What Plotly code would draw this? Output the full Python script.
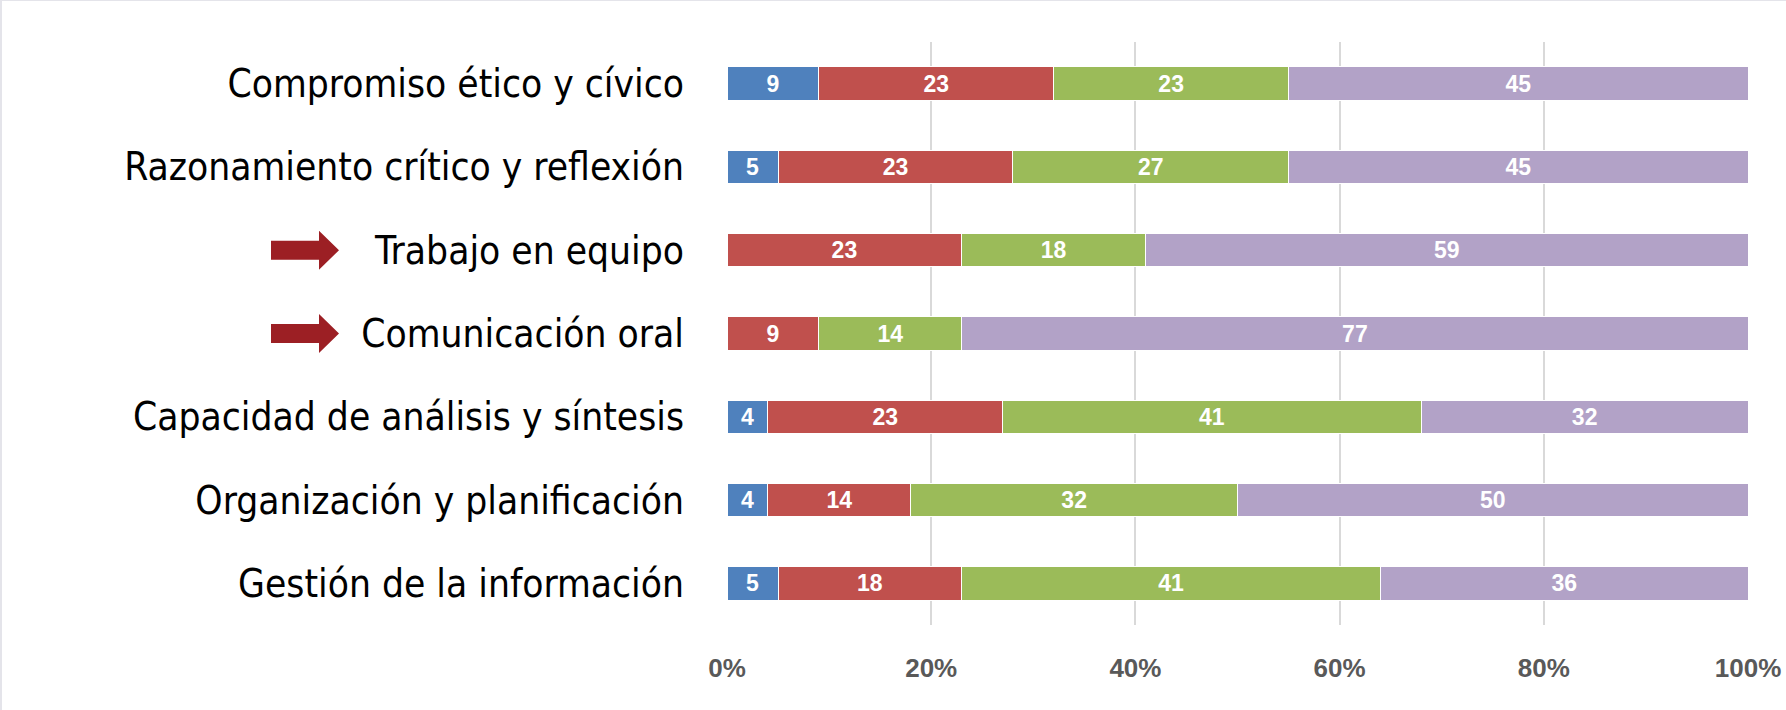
import plotly.graph_objects as go

categories = [
    "Gestión de la información",
    "Organización y planificación",
    "Capacidad de análisis y síntesis",
    "Comunicación oral",
    "Trabajo en equipo",
    "Razonamiento crítico y reflexión",
    "Compromiso ético y cívico",
]
serie1 = [5, 4, 4, 0, 0, 5, 9]
serie2 = [18, 14, 23, 9, 23, 23, 23]
serie3 = [41, 32, 41, 14, 18, 27, 23]
serie4 = [36, 50, 32, 77, 59, 45, 45]
series_names = ["1", "2", "3", "4"]
colors = ["#4F81BD", "#C0504D", "#9BBB59", "#B2A2C7"]
tick_vals = [0, 20, 40, 60, 80, 100]
tick_text = ["0%", "20%", "40%", "60%", "80%", "100%"]
arrow_rows = ["Trabajo en equipo", "Comunicación oral"]

W, H = 1786, 710
ML, MR, MT, MB = 727, 38, 42, 85
PW, PH = W - ML - MR, H - MT - MB

fig = go.Figure()
for name, vals, col in zip(series_names, [serie1, serie2, serie3, serie4], colors):
    fig.add_trace(go.Bar(
        y=categories, x=vals, name=name, orientation="h",
        marker=dict(color=col, line=dict(color="white", width=1)),
        text=[str(v) if v > 0 else "" for v in vals],
        textposition="inside", insidetextanchor="middle",
        textfont=dict(color="white", size=23, family="Liberation Sans, Arial", weight="bold"),
        cliponaxis=False,
    ))

shapes = []
def px(xp):
    return (xp - ML) / PW
def py(yp):
    return (MT + PH - yp) / PH

for row in arrow_rows:
    idx = categories.index(row)
    yc_px = MT + PH - (idx + 0.5) * PH / len(categories)
    x0, xh, x1 = 271, 319, 339
    pts = [(x0, yc_px - 9.5), (xh, yc_px - 9.5), (xh, yc_px - 19.5), (x1, yc_px),
           (xh, yc_px + 19.5), (xh, yc_px + 9.5), (x0, yc_px + 9.5)]
    path = "M " + " L ".join(f"{px(a):.5f},{py(b):.5f}" for a, b in pts) + " Z"
    shapes.append(dict(type="path", xref="paper", yref="paper", path=path,
                       fillcolor="#9C1F24", line=dict(width=0)))

shapes.append(dict(type="line", xref="paper", yref="paper",
                   x0=px(0), x1=px(W), y0=py(0.5), y1=py(0.5),
                   line=dict(color="#E4E4EA", width=1)))
shapes.append(dict(type="line", xref="paper", yref="paper",
                   x0=px(1), x1=px(1), y0=py(0), y1=py(H),
                   line=dict(color="#E4E4EA", width=2)))

fig.update_layout(
    barmode="stack",
    bargap=0.6,
    width=W, height=H,
    margin=dict(l=ML, r=MR, t=MT, b=MB, autoexpand=False),
    paper_bgcolor="white", plot_bgcolor="white",
    showlegend=False,
    shapes=shapes,
    xaxis=dict(range=[0, 100], tickvals=tick_vals, ticktext=tick_text,
               showgrid=True, gridcolor="#D9D9D9", gridwidth=1.5,
               zeroline=False, showline=False, ticks="", automargin=False,
               tickfont=dict(size=26, color="#595959", family="Liberation Sans, Arial", weight="bold"),
               ticklabelstandoff=25),
    yaxis=dict(categoryorder="array", categoryarray=categories,
               showgrid=False, zeroline=False, showline=False, ticks="", automargin=False,
               tickfont=dict(size=38.6, color="black", family="Liberation Sans Narrow, DejaVu Sans Condensed, sans-serif"),
               ticklabelstandoff=42),
)

fig.write_html("out.html")
